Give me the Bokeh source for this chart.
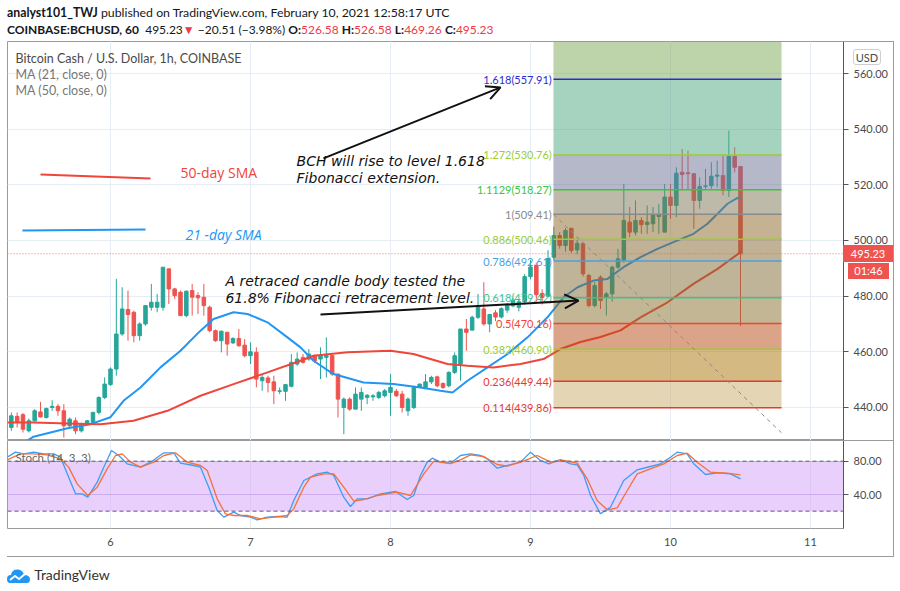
from bokeh.plotting import figure
from bokeh.models import (Range1d, FixedTicker, Grid, Span, BoxAnnotation, Label, Arrow, OpenHead,
                          ColumnDataSource, Div, NumeralTickFormatter)
from bokeh.layouts import column
from bokeh.embed import file_html
from bokeh.resources import INLINE
from bokeh.core.properties import value

# ---------------- data ----------------
# hourly candles, hours counted from Feb 5 00:00 UTC
hours = list(range(7, 133))
opens = [432.8, 436.8, 437.4, 431.6, 435.2, 438.4, 436.4, 440.0, 440.4, 438.8,
         433.4, 435.2, 431.6, 434.4, 434.6, 438.2, 443.6, 448.2, 453.8, 466.4,
         475.2, 474.2, 465.8, 470.0, 476.0, 476.0, 476.0, 489.8, 482.6, 481.4,
         473.0, 482.0, 480.2, 479.6, 476.0, 467.6, 464.0, 467.0, 463.2, 464.8,
         462.4, 458.6, 459.8, 449.6, 450.6, 449.2, 445.8, 445.8, 447.6, 455.6,
         458.0, 457.4, 458.6, 457.4, 458.0, 458.6, 452.0, 440.0, 443.0, 439.4,
         443.0, 443.6, 443.8, 443.6, 444.2, 445.4, 445.8, 444.8, 438.8, 440.0,
         447.2, 447.2, 449.2, 451.0, 448.6, 447.8, 452.6, 455.6, 468.2, 467.8,
         472.4, 475.4, 470.0, 474.0, 472.5, 475.0, 476.5, 476.0, 478.0, 487.0,
         491.0, 481.0, 480.0, 494.0, 501.8, 498.2, 504.4, 496.6, 498.8, 487.4,
         476.6, 486.8, 479.6, 480.8, 490.4, 493.0, 506.6, 503.0, 507.2, 505.7,
         506.0, 508.6, 503.0, 515.6, 512.6, 524.5, 524.3, 524.0, 514.4, 519.4,
         519.7, 523.1, 523.3, 518.0, 530.2, 526.58]
highs = [438.2, 438.2, 438.0, 436.0, 439.4, 442.0, 440.0, 442.6, 441.2, 441.2,
         436.4, 436.4, 434.5, 435.5, 438.5, 444.0, 450.8, 454.4, 486.2, 483.2,
         482.0, 474.8, 470.6, 476.6, 484.4, 480.8, 490.4, 489.8, 483.0, 482.0,
         482.0, 484.4, 481.4, 484.4, 476.6, 468.0, 467.6, 467.2, 465.2, 468.2,
         464.6, 463.4, 461.6, 452.0, 451.4, 451.4, 447.2, 448.4, 459.2, 459.8,
         459.2, 461.0, 459.0, 461.6, 465.2, 459.2, 452.0, 443.6, 443.6, 447.2,
         447.2, 444.8, 444.8, 446.0, 446.6, 452.0, 446.6, 446.0, 443.6, 447.8,
         448.6, 452.0, 451.4, 451.4, 449.0, 453.0, 459.8, 468.2, 471.8, 473.0,
         480.8, 485.0, 473.6, 475.0, 476.0, 477.5, 479.5, 479.0, 488.0, 493.0,
         492.0, 482.5, 496.5, 505.0, 503.0, 504.5, 504.5, 501.0, 499.5, 488.0,
         485.0, 487.5, 481.5, 491.0, 497.0, 520.3, 512.0, 514.4, 508.4, 512.6,
         512.0, 513.2, 520.3, 520.3, 526.3, 532.9, 532.3, 524.0, 522.7, 525.7,
         528.1, 528.7, 530.5, 539.5, 533.5, 526.58]
lows = [431.6, 432.8, 431.0, 431.0, 435.0, 436.4, 436.0, 438.8, 437.0, 429.2,
        433.0, 430.4, 431.0, 433.8, 434.0, 437.5, 443.0, 447.8, 451.4, 465.8,
        464.0, 463.4, 464.0, 469.4, 474.8, 474.2, 474.8, 477.2, 479.0, 473.0,
        472.4, 473.0, 473.6, 473.0, 467.0, 463.6, 459.8, 458.6, 462.8, 461.8,
        458.0, 455.6, 447.2, 446.0, 445.4, 441.2, 444.8, 442.4, 447.2, 455.0,
        455.8, 456.8, 456.0, 450.2, 450.8, 451.4, 436.4, 430.4, 438.8, 439.4,
        438.8, 441.2, 442.4, 443.0, 443.6, 437.0, 443.8, 438.2, 437.0, 439.4,
        447.0, 446.6, 448.4, 447.2, 446.6, 447.2, 452.0, 449.6, 460.4, 467.6,
        471.8, 469.4, 467.0, 471.0, 472.0, 474.0, 476.0, 474.5, 477.0, 486.0,
        478.0, 477.0, 479.5, 493.0, 497.0, 496.0, 495.5, 495.0, 487.0, 476.0,
        476.0, 475.4, 473.0, 478.0, 489.8, 492.0, 501.2, 501.8, 502.4, 502.4,
        503.0, 502.4, 503.0, 507.8, 508.4, 518.5, 518.5, 504.2, 511.4, 518.6,
        518.6, 519.1, 516.2, 515.6, 524.5, 469.26]
closes = [437.0, 434.6, 432.2, 435.2, 438.8, 436.6, 439.6, 440.4, 438.8, 433.4,
          435.8, 431.6, 434.0, 435.2, 438.2, 443.6, 448.4, 453.8, 466.4, 475.4,
          473.4, 465.8, 470.0, 476.6, 477.8, 477.8, 490.4, 482.6, 480.2, 473.0,
          481.8, 479.6, 479.4, 476.6, 467.6, 464.0, 467.4, 462.8, 464.8, 462.2,
          458.6, 460.0, 450.2, 450.8, 449.0, 446.0, 446.0, 448.2, 456.2, 457.4,
          456.2, 459.2, 456.8, 458.6, 458.6, 452.0, 443.0, 443.0, 439.4, 444.8,
          445.4, 444.4, 444.2, 445.4, 446.0, 447.2, 444.2, 440.0, 443.0, 447.2,
          448.4, 449.2, 450.8, 447.8, 447.2, 452.6, 458.6, 468.2, 467.0, 472.4,
          476.0, 470.0, 473.4, 472.5, 475.5, 477.0, 478.5, 478.0, 487.0, 490.5,
          480.5, 479.5, 493.5, 501.8, 498.2, 503.6, 496.4, 499.0, 488.0, 476.6,
          483.8, 478.4, 480.8, 490.4, 493.4, 507.2, 503.0, 507.2, 505.7, 506.6,
          509.2, 509.2, 515.6, 512.6, 524.2, 523.7, 524.0, 514.4, 519.4, 519.6,
          523.1, 523.5, 518.0, 530.2, 526.3, 495.23]

# moving averages (x in days of Feb 2021)
ma21_day = [5.357, 5.450, 5.693, 5.857, 6.000, 6.093, 6.214, 6.357, 6.500, 6.643,
            6.736, 6.879, 6.979, 7.121, 7.264, 7.357, 7.450, 7.593, 7.807, 8.021,
            8.214, 8.357, 8.443, 8.550, 8.693, 8.836, 8.979, 9.121, 9.236, 9.336,
            9.450, 9.550, 9.664, 9.786, 9.907, 10.021, 10.164, 10.264, 10.336, 10.407,
            10.479, 10.500]
ma21_val = [426.5, 429.5, 432.5, 434.0, 436.5, 442.4, 447.2, 454.4, 460.4, 467.6,
            471.8, 474.2, 473.6, 470.6, 465.2, 461.6, 456.8, 452.0, 449.0, 448.4,
            447.2, 446.0, 445.4, 449.6, 454.4, 459.2, 465.2, 472.4, 479.6, 483.2,
            485.6, 486.2, 490.4, 494.0, 497.0, 499.4, 502.4, 506.0, 509.6, 513.2,
            515.3, 515.2]
ma50_day = [5.264, 5.450, 5.693, 5.929, 6.164, 6.407, 6.643, 6.879, 7.121, 7.357,
            7.450, 7.693, 8.000, 8.164, 8.407, 8.550, 8.736, 8.929, 9.093, 9.214,
            9.357, 9.500, 9.643, 9.786, 9.979, 10.164, 10.336, 10.500]
ma50_val = [434.6, 434.6, 434.2, 434.0, 435.2, 438.8, 444.2, 448.4, 452.6, 456.8,
            458.6, 459.8, 460.4, 459.2, 455.6, 455.0, 454.4, 455.6, 457.4, 461.0,
            463.5, 465.3, 467.7, 472.4, 477.8, 484.4, 489.8, 495.8]

# stochastic (14, 3, 3)
k_day = [5.262, 5.321, 5.381, 5.452, 5.524, 5.595, 5.643, 5.691, 5.750, 5.798,
         5.838, 5.905, 5.952, 6.007, 6.059, 6.119, 6.214, 6.286, 6.381, 6.452,
         6.500, 6.595, 6.643, 6.702, 6.762, 6.809, 6.881, 6.929, 7.000, 7.048,
         7.119, 7.191, 7.262, 7.309, 7.381, 7.476, 7.548, 7.595, 7.666, 7.714,
         7.762, 7.834, 7.929, 8.036, 8.119, 8.166, 8.214, 8.262, 8.298, 8.357,
         8.429, 8.500, 8.571, 8.643, 8.691, 8.762, 8.834, 8.929, 9.000, 9.071,
         9.131, 9.214, 9.286, 9.334, 9.381, 9.429, 9.500, 9.571, 9.666, 9.762,
         9.857, 9.929, 10.000, 10.048, 10.119, 10.166, 10.250, 10.334, 10.429, 10.500]
k_val = [84.8, 90.8, 88.8, 90.8, 88.8, 88.8, 84.8, 64.8, 40.8, 40.8,
         36.8, 54.8, 72.8, 92.8, 86.8, 76.8, 72.8, 78.8, 90.0, 90.0,
         77.6, 74.8, 72.8, 48.8, 20.8, 12.8, 18.8, 14.8, 12.8, 9.6,
         12.8, 13.6, 12.8, 32.8, 56.8, 64.8, 66.8, 62.8, 36.8, 25.6,
         34.8, 34.8, 40.8, 43.6, 34.0, 38.8, 62.8, 78.8, 83.6, 78.8,
         77.6, 86.8, 88.8, 86.8, 82.8, 71.6, 74.8, 78.8, 90.8, 80.8,
         76.8, 82.0, 76.8, 75.6, 62.8, 38.8, 16.8, 24.8, 56.8, 69.6,
         73.6, 76.8, 84.8, 90.8, 88.8, 76.8, 64.0, 66.0, 64.8, 58.8]
d_day = [5.262, 5.357, 5.452, 5.548, 5.643, 5.701, 5.762, 5.838, 5.905, 5.976,
         6.036, 6.084, 6.143, 6.214, 6.309, 6.381, 6.464, 6.548, 6.643, 6.691,
         6.762, 6.821, 6.881, 6.976, 7.071, 7.166, 7.262, 7.309, 7.381, 7.429,
         7.524, 7.595, 7.666, 7.738, 7.809, 7.905, 8.048, 8.143, 8.238, 8.309,
         8.429, 8.500, 8.571, 8.666, 8.762, 8.834, 8.929, 9.048, 9.143, 9.238,
         9.334, 9.405, 9.476, 9.548, 9.619, 9.691, 9.762, 9.857, 9.952, 10.048,
         10.119, 10.191, 10.286, 10.405, 10.500]
d_val = [81.6, 88.8, 88.8, 87.6, 82.8, 72.8, 52.8, 38.8, 48.8, 70.8,
         86.8, 88.8, 78.8, 72.8, 78.8, 86.8, 90.0, 78.8, 74.8, 68.8,
         34.8, 16.8, 14.8, 14.8, 10.8, 12.8, 14.8, 22.8, 48.8, 60.8,
         64.8, 64.8, 48.8, 32.0, 34.0, 38.8, 42.8, 38.8, 64.8, 80.0,
         77.0, 81.6, 87.6, 85.6, 76.0, 74.0, 78.8, 86.8, 78.8, 80.8,
         77.6, 58.8, 32.8, 21.6, 24.0, 44.8, 64.8, 70.8, 76.8, 86.8,
         89.6, 78.8, 66.8, 65.6, 63.6]

# Fibonacci tool
fib_start_day = 9.164
fib_end_day = 10.793
fib_ratios = ["0.114", "0.236", "0.382", "0.5", "0.618", "0.786", "0.886", "1", "1.1129", "1.272", "1.618"]
fib_prices = [439.86, 449.44, 460.90, 470.16, 479.42, 492.61, 500.46, 509.41, 518.27, 530.76, 557.91]
fib_line_colors = ["#e53935", "#e53935", "#9acd32", "#f44336", "#3cc48a", "#4a9fe0",
                   "#9acd32", "#8a8a8a", "#3dc43d", "#9acd32", "#2b2bd0"]
fib_fill_colors = ["#c9ad69", "#ab7305", "#b7470f", "#876d29", "#816931", "#83652d",
                   "#896525", "#7d7555", "#697191", "#4da781", "#7ba755"]
fib_zero_price = 430.9

day_ticks = [6, 7, 8, 9, 10, 11]
price_ticks = [440, 460, 480, 500, 520, 540, 560]
stoch_ticks = [40, 80]
last_price = 495.23
countdown = "01:46"
change = "\u221220.51"
change_pct = "(\u22123.98%)"
o_val, h_val, l_val, c_val = "526.58", "526.58", "469.26", "495.23"

# ---------------- drawing ----------------
FONT = "Lato"
W = 887
x_rng = Range1d(5.2643, 11.2357)

p = figure(width=W, height=399, x_range=x_rng, y_range=Range1d(428.13, 571.5),
           output_backend="svg", toolbar_location=None, x_axis_location=None,
           y_axis_location="right", min_border_left=0, min_border_right=51,
           min_border_top=0, min_border_bottom=0, title=None)
p.background_fill_color = "white"
p.border_fill_color = "white"
p.outline_line_color = "#9b9b9b"
p.outline_line_width = 1

def style_price_axis(ax, ticks):
    ax.ticker = FixedTicker(ticks=ticks)
    ax.formatter = NumeralTickFormatter(format="0.00")
    ax.major_label_text_font = FONT
    ax.major_label_text_font_size = "11px"
    ax.major_label_text_color = "#4a4a4a"
    ax.axis_line_color = "#555555"
    ax.major_tick_line_color = "#555555"
    ax.major_tick_out = 5
    ax.major_tick_in = 0
    ax.minor_tick_line_color = None
    ax.major_label_standoff = 5

style_price_axis(p.yaxis[0], price_ticks)
p.ygrid.grid_line_color = "#e6edf4"
p.add_layout(Grid(dimension=0, ticker=FixedTicker(ticks=day_ticks), grid_line_color="#e6edf4"))

xs = [5 + h / 24 for h in hours]
cols = ["#26a69a" if c >= o else "#ef5350" for o, c in zip(opens, closes)]
src = ColumnDataSource(dict(x=xs, o=opens, h=highs, l=lows, c=closes, col=cols,
                            top=[max(o, c) for o, c in zip(opens, closes)],
                            bot=[min(o, c) for o, c in zip(opens, closes)]))
p.segment(x0="x", y0="l", x1="x", y1="h", line_color="col", line_width=1, source=src)
p.vbar(x="x", width=0.6 / 24, top="top", bottom="bot", fill_color="col", line_color="col",
       line_width=1, source=src)

p.line(ma21_day, ma21_val, line_color="#2196f3", line_width=2)
p.line(ma50_day, ma50_val, line_color="#f0453a", line_width=2)

# Fibonacci fills (drawn over candles, semi transparent)
bottoms = fib_prices
tops = fib_prices[1:] + [p.y_range.end]
p.quad(left=[fib_start_day] * len(bottoms), right=[fib_end_day] * len(bottoms),
       bottom=bottoms, top=tops, fill_color=fib_fill_colors, fill_alpha=0.5, line_color=None)
p.segment(x0=[fib_start_day] * len(fib_prices), x1=[fib_end_day] * len(fib_prices),
          y0=fib_prices, y1=fib_prices, line_color=fib_line_colors, line_width=1.5)
p.line([fib_start_day, fib_end_day], [fib_prices[7], fib_zero_price], line_color="#8a8a8a",
       line_dash="4 4", line_width=1)
fib_txt = ["%s(%.2f)" % (r, v) for r, v in zip(fib_ratios, fib_prices)]
p.text(x=[fib_start_day - 0.012] * len(fib_prices), y=fib_prices, text=fib_txt,
       text_color=fib_line_colors, text_align="right", text_baseline="middle",
       text_font=value(FONT), text_font_size="11px")

# last price dotted line
p.add_layout(Span(location=last_price, dimension="width", line_color="#ef5350",
                  line_dash="1 2", line_width=1, line_alpha=0.8))

# legend texts
for txt, yv, col in [("Bitcoin Cash / U.S. Dollar, 1h, COINBASE", 565.4, "#4a4a4a"),
                     ("MA (21, close, 0)", 559.6, "#777777"),
                     ("MA (50, close, 0)", 553.9, "#777777")]:
    p.add_layout(Label(x=5.321, y=yv, text=txt, text_font=FONT, text_font_size="12.5px",
                       text_color=col, text_baseline="middle"))

# hand-drawn annotations
p.line([5.5, 6.286], [523.7, 522.3], line_color="#f0453a", line_width=2)
p.line([5.371, 6.25], [503.6, 503.95], line_color="#2196f3", line_width=2)
p.add_layout(Label(x=6.5, y=524.4, text="50-day SMA", text_font="Open Sans", text_font_size="14px",
                   text_color="#f0453a", text_baseline="middle"))
p.add_layout(Label(x=6.536, y=502.1, text="21 -day SMA", text_font="Open Sans", text_font_size="14px",
                   text_font_style="italic", text_color="#2196f3", text_baseline="middle"))
for txt, yv in [("BCH will rise to level 1.618", 528.4), ("Fibonacci extension.", 522.3)]:
    p.add_layout(Label(x=7.329, y=yv, text=txt, text_font="DejaVu Sans", text_font_size="14px",
                       text_font_style="italic", text_color="#111111", text_baseline="middle"))
for txt, yv in [("A retraced candle body tested the", 485.6),
                ("61.8% Fibonacci retracement level.", 479.5)]:
    p.add_layout(Label(x=6.821, y=yv, text=txt, text_font="DejaVu Sans", text_font_size="14px",
                       text_font_style="italic", text_color="#111111", text_baseline="middle"))
p.add_layout(Arrow(end=OpenHead(size=14, line_width=2, line_color="#111111"),
                   x_start=7.521, y_start=529.5, x_end=8.786, y_end=555.0,
                   line_width=2, line_color="#111111"))
p.add_layout(Arrow(end=OpenHead(size=14, line_width=2, line_color="#111111"),
                   x_start=7.5, y_start=473.4, x_end=9.343, y_end=478.4,
                   line_width=2, line_color="#111111"))

# ---------------- stochastic pane ----------------
s = figure(width=W, height=116, x_range=x_rng, y_range=Range1d(-0.8, 104.8),
           output_backend="svg", toolbar_location=None, y_axis_location="right",
           min_border_left=0, min_border_right=51, min_border_top=0, min_border_bottom=28,
           title=None)
s.background_fill_color = "white"
s.border_fill_color = "white"
s.outline_line_color = "#9b9b9b"
style_price_axis(s.yaxis[0], stoch_ticks)
sax = s.xaxis[0]
sax.ticker = FixedTicker(ticks=day_ticks)
sax.major_label_text_font = FONT
sax.major_label_text_font_size = "11px"
sax.major_label_text_color = "#4a4a4a"
sax.axis_line_color = None
sax.major_tick_line_color = None
sax.minor_tick_line_color = None
sax.major_label_standoff = 3
s.xgrid.grid_line_color = "#e6edf4"
s.ygrid.grid_line_color = "#c9b6de"
s.add_layout(BoxAnnotation(bottom=20, top=80, fill_color="#d19ff9", fill_alpha=0.5,
                           line_color=None, level="underlay"))
for lv in [20, 80]:
    s.add_layout(Span(location=lv, dimension="width", line_color="#5d606b",
                      line_dash="4 3", line_width=1))
s.line(k_day, k_val, line_color="#3d9df3", line_width=1.3)
s.line(d_day, d_val, line_color="#f5713b", line_width=1.3)
s.add_layout(Label(x=5.321, y=84.4, text="Stoch (14, 3, 3)", text_font=FONT,
                   text_font_size="11.5px", text_color="#666666", text_baseline="middle"))

# ---------------- header / footer ----------------
red = "#f23645"
hdr_html = (
    '<div style="font-family:Lato;color:#131722;line-height:17px;'
    'white-space:nowrap;padding-top:4px;">'
    '<div style="font-size:12.3px;"><b>analyst101_TWJ</b> published on TradingView.com, '
    'February 10, 2021 12:58:17 UTC</div>'
    '<div style="font-size:12px;"><b>COINBASE:BCHUSD, 60</b>&nbsp; %.2f<span style="color:%s">&#9660;</span> %s %s '
    '<b>O:</b><span style="color:%s">%s</span> <b>H:</b><span style="color:%s">%s</span> '
    '<b>L:</b><span style="color:%s">%s</span> <b>C:</b><span style="color:%s">%s</span></div></div>'
    % (last_price, red, change, change_pct, red, o_val, red, h_val, red, l_val, red, c_val))
hdr = Div(text=hdr_html, width=W, height=41, margin=0)

logo_svg = ('<svg width="24" height="16" viewBox="0 0 24 16" style="vertical-align:middle">'
            '<path d="M3 15 Q0 15 0 11 Q0 7 4 7 Q5 1 11 1.5 Q16 2 17 7 Q23 7 23 11.5 Q23 15 19.5 15 Z" '
            'fill="#2196f3"/><polyline points="3,12 8,8 12,11 18,6" stroke="white" '
            'stroke-width="1.8" fill="none"/></svg>')
# overlays on the price scale (positions relative to the footer's top-left corner)
badge = ('<div style="position:absolute;left:{l}px;top:{t}px;width:{w}px;height:{h}px;'
         'background:{bg};color:{fg};font-family:Lato;font-size:11px;line-height:{h}px;'
         'text-align:center;border-radius:{r}px;{extra}">{txt}</div>')
overlay = (
    badge.format(l=836, t=-311, w=50, h=17, bg="#ef5350", fg="white", r=0, extra="", txt="%.2f" % last_price)
    + badge.format(l=841, t=-293, w=41, h=16, bg="#ef5350", fg="white", r=0, extra="", txt=countdown)
    + badge.format(l=846, t=-507, w=28, h=16, bg="white", fg="#4a4a4a", r=3,
                   extra="border:1px solid #cfcfcf;", txt="USD")
    + '<div style="position:absolute;left:836px;top:-515px;width:51px;height:1px;background:#9b9b9b"></div>'
    + '<div style="position:absolute;left:836px;top:-116px;width:51px;height:1px;background:#9b9b9b"></div>'
    + '<div style="position:absolute;left:886px;top:-515px;width:1px;height:515px;background:#9b9b9b"></div>'
    + '<div style="position:absolute;left:0px;top:0px;width:887px;height:1px;background:#9b9b9b"></div>'
)
ftr = Div(text='<div style="position:relative;height:30px;">' + overlay +
               '<div style="position:absolute;left:0;top:9px;font-family:Lato;font-size:14px;'
               'color:#333;line-height:20px;white-space:nowrap;">' + logo_svg +
               '&nbsp;TradingView</div></div>',
          width=W, height=30, margin=0, styles={"overflow": "visible", "z-index": "10"})

layout = column(hdr, p, s, ftr, spacing=0, margin=(0, 0, 0, 7))
open("out.html", "w").write(file_html(layout, INLINE))
